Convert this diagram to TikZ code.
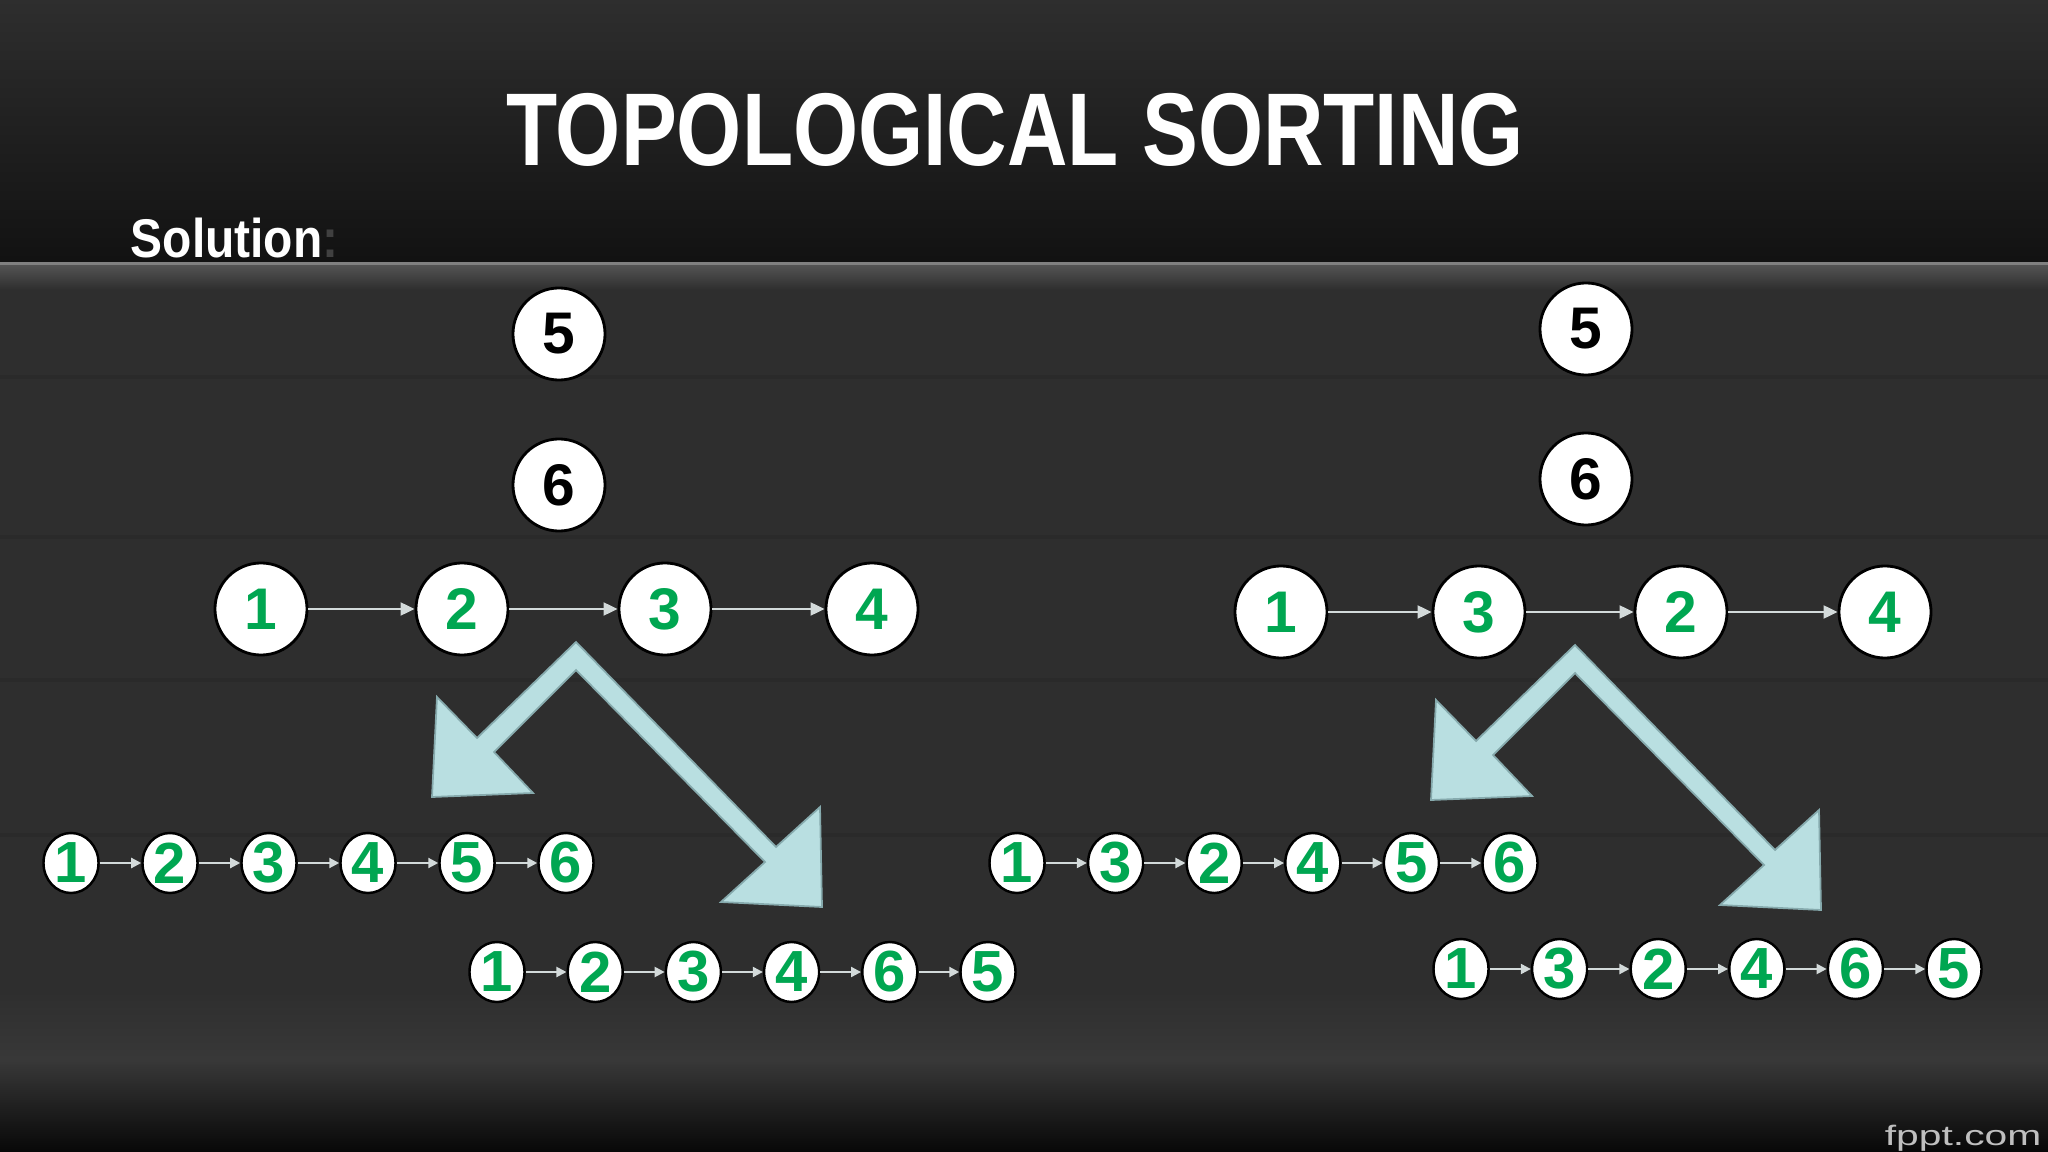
\documentclass[tikz,border=0pt]{standalone}
\usepackage{fontspec}
\setmainfont{Liberation Sans}
\newfontfamily\titlefont[FakeStretch=0.81]{Liberation Sans}
\newfontfamily\labelfont[FakeStretch=0.88]{Liberation Sans}
\newfontfamily\markfont[FakeStretch=1.45]{Liberation Sans}
\usetikzlibrary{shapes.geometric,arrows.meta}
\definecolor{digitgreen}{HTML}{00A651}
\definecolor{chevronblue}{HTML}{B9DFE1}
\definecolor{chevronedge}{HTML}{86AAAD}
\definecolor{linkgray}{HTML}{D3DADA}
\tikzset{
bignode/.style={circle,draw=black,line width=0.8pt,fill=white,minimum size=0.92cm,inner sep=0pt,font=\bfseries\fontsize{16.7}{18}\selectfont},
greennum/.style={text=digitgreen},
smallnode/.style={ellipse,draw=black,line width=0.7pt,fill=white,minimum width=0.55cm,minimum height=0.6cm,inner sep=0pt,text=digitgreen,font=\bfseries\fontsize{16.5}{17}\selectfont},
biglink/.style={draw=linkgray,line width=0.6pt,-{Triangle[length=0.14cm,width=0.13cm]}},
smalllink/.style={draw=linkgray,line width=0.6pt,-{Triangle[length=0.1cm,width=0.1cm]}},
chevron/.style={fill=chevronblue,draw=chevronedge,line width=0.5pt,line join=miter}
}
\begin{document}
\begin{tikzpicture}[x=0.01cm,y=-0.01cm]
\useasboundingbox (0,0) rectangle (2048,1152);
\fill[black!82] (0,0) rectangle (2048,1152);
\shade[top color=black!82,middle color=black!81,bottom color=black!93] (0,0) rectangle (2048,262);
\fill[black!50] (0,262) rectangle (2048,266);
\shade[top color=black!68,bottom color=black!82] (0,266) rectangle (2048,290);
\foreach \yb in {377,537,680,835}
  \draw[black!88,line width=1.2pt,opacity=0.25] (0,\yb) -- (2048,\yb);
\shade[top color=black!82,bottom color=black!78] (0,990) rectangle (2048,1060);
\shade[top color=black!78,bottom color=black!97] (0,1060) rectangle (2048,1152);
\node[text=white,font=\titlefont\bfseries\fontsize{29.4}{32}\selectfont] (title) at (1015,130) {TOPOLOGICAL SORTING};
\node[text=white,anchor=base west,inner sep=0pt,font=\labelfont\bfseries\fontsize{15.5}{17}\selectfont] (solution) at (130,258) {Solution\textcolor{black!75}{:}};
\node[text=black!25,anchor=base east,inner sep=0pt,font=\markfont\fontsize{8}{9}\selectfont] (mark) at (2042,1145) {fppt.com};
\foreach \ax/\ay in {576/642,1575/645}
  \draw[chevron,shift={(\ax,\ay)}] (0,0) -- (200,205) -- (244,165) -- (246,265) -- (145,260) -- (189,220) -- (0,28) -- (-82,110) -- (-43,151) -- (-144,155) -- (-139,55) -- (-99,96) -- cycle;
\node[bignode] (l5) at (559,334) {5};
\node[bignode] (l6) at (559,485) {6};
\node[bignode,greennum] (l1) at (261,609) {1};
\node[bignode,greennum] (l2) at (462,609) {2};
\node[bignode,greennum] (l3) at (665,609) {3};
\node[bignode,greennum] (l4) at (872,609) {4};
\draw[biglink] (l1) -- (l2);
\draw[biglink] (l2) -- (l3);
\draw[biglink] (l3) -- (l4);
\node[bignode] (r5) at (1586,329) {5};
\node[bignode] (r6) at (1586,479) {6};
\node[bignode,greennum] (r1) at (1281,612) {1};
\node[bignode,greennum] (r3) at (1479,612) {3};
\node[bignode,greennum] (r2) at (1681,612) {2};
\node[bignode,greennum] (r4) at (1885,612) {4};
\draw[biglink] (r1) -- (r3);
\draw[biglink] (r3) -- (r2);
\draw[biglink] (r2) -- (r4);
\foreach \lab [count=\i] in {1,2,3,4,5,6}
  \node[smallnode] (la\i) at ({71+99*(\i-1)},863) {\lab};
\foreach \lab [count=\i] in {1,2,3,4,6,5}
  \node[smallnode] (lb\i) at ({497+98.2*(\i-1)},972) {\lab};
\foreach \lab [count=\i] in {1,3,2,4,5,6}
  \node[smallnode] (ra\i) at ({1017+98.6*(\i-1)},863) {\lab};
\foreach \lab [count=\i] in {1,3,2,4,6,5}
  \node[smallnode] (rb\i) at ({1461+98.6*(\i-1)},969) {\lab};
\foreach \i/\j in {1/2,2/3,3/4,4/5,5/6}{
  \draw[smalllink] (la\i) -- (la\j);
  \draw[smalllink] (lb\i) -- (lb\j);
  \draw[smalllink] (ra\i) -- (ra\j);
  \draw[smalllink] (rb\i) -- (rb\j);
}
\end{tikzpicture}
\end{document}
